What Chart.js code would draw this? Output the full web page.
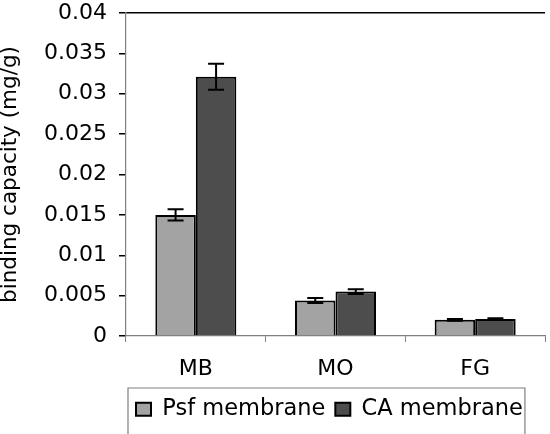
<!DOCTYPE html>
<html>
<head>
<meta charset="utf-8">
<script src="https://cdn.jsdelivr.net/npm/chart.js@4/dist/chart.umd.min.js"></script>
<style>
  html, body { margin: 0; padding: 0; background: #fff; }
  #wrap { width: 550px; height: 434px; position: relative; }
</style>
</head>
<body>
<div id="wrap"><canvas id="chart"></canvas></div>
<script>
const categories = ["MB", "MO", "FG"];
const seriesNames = ["Psf membrane", "CA membrane"];
const psfValues = [0.0150, 0.0044, 0.0020];
const caValues = [0.0321, 0.0055, 0.0021];
const psfErrors = [0.0007, 0.0003, 0.0001];
const caErrors = [0.0016, 0.0003, 0.0001];
const yTickLabels = ["0", "0.005", "0.01", "0.015", "0.02", "0.025", "0.03", "0.035", "0.04"];

const FONT = "'DejaVu Sans', 'Liberation Sans', Arial, sans-serif";

// error bars, positioned from the bar elements and the y scale
const errorBars = {
  id: "errorBars",
  afterDatasetsDraw(chart) {
    const { ctx, scales: { y } } = chart;
    const errs = [psfErrors, caErrors];
    ctx.save();
    ctx.strokeStyle = "#000";
    ctx.lineWidth = 2;
    chart.data.datasets.forEach((ds, i) => {
      const meta = chart.getDatasetMeta(i);
      meta.data.forEach((bar, j) => {
        const v = ds.data[j];
        const e = errs[i][j];
        const top = y.getPixelForValue(v + e);
        const bottom = y.getPixelForValue(v - e);
        ctx.beginPath();
        ctx.moveTo(bar.x, top);
        ctx.lineTo(bar.x, bottom);
        ctx.moveTo(bar.x - 8, top);
        ctx.lineTo(bar.x + 8, top);
        ctx.moveTo(bar.x - 8, bottom);
        ctx.lineTo(bar.x + 8, bottom);
        ctx.stroke();
      });
    });
    ctx.restore();
  },
};

// frame round the legend, open at the bottom edge like the original crop
const legendFrame = {
  id: "legendFrame",
  afterDraw(chart) {
    const legend = chart.legend;
    if (!legend || !legend.legendHitBoxes.length) return;
    const boxes = legend.legendHitBoxes;
    const left = boxes[0].left - 8;
    const last = boxes[boxes.length - 1];
    const right = last.left + last.width + 2;
    const { ctx } = chart;
    ctx.save();
    ctx.strokeStyle = "#7f7f7f";
    ctx.lineWidth = 1.2;
    ctx.beginPath();
    ctx.moveTo(left, chart.height + 2);
    ctx.lineTo(left, legend.top);
    ctx.lineTo(right, legend.top);
    ctx.lineTo(right, chart.height + 2);
    ctx.stroke();
    ctx.restore();
  },
};

new Chart(document.getElementById("chart"), {
  type: "bar",
  data: {
    labels: categories,
    datasets: [
      { label: seriesNames[0], data: psfValues, backgroundColor: "#a3a3a3", borderColor: "#000", borderWidth: 2, barPercentage: 1, categoryPercentage: 0.58 },
      { label: seriesNames[1], data: caValues, backgroundColor: "#4d4d4d", borderColor: "#000", borderWidth: 2, barPercentage: 1, categoryPercentage: 0.58 },
    ],
  },
  options: {
    responsive: true,
    maintainAspectRatio: false,
    animation: false,
    layout: { padding: { top: 13, right: 5, bottom: 3.5, left: 0 } },
    plugins: {
      tooltip: { enabled: false },
      legend: {
        position: "bottom",
        align: "start",
        fullSize: false,
        labels: { color: "#000", font: { family: FONT, size: 22.5 }, boxWidth: 15, boxHeight: 13, padding: 10 },
      },
    },
    scales: {
      x: {
        afterFit: (scale) => { scale.height = 52; },
        border: { color: "#808080", width: 1.2 },
        grid: {
          offset: true,
          color: (ctx) => (ctx.index === categories.length ? "#808080" : "transparent"),
          tickColor: "#808080",
          tickLength: 6,
        },
        ticks: { color: "#000", padding: 14, font: { family: FONT, size: 22 } },
      },
      y: {
        min: 0,
        max: 0.04,
        afterFit: (scale) => {
          scale.width = 126;
          scale.paddingTop = 0;
          scale.paddingBottom = 0;
        },
        border: { color: "#808080", width: 1.2 },
        grid: {
          color: (ctx) => (ctx.index === yTickLabels.length - 1 ? "#000" : "transparent"),
          lineWidth: 1.5,
          tickColor: "#000",
          tickLength: 7,
        },
        ticks: {
          stepSize: 0.005,
          color: "#000",
          padding: 12,
          font: { family: FONT, size: 22 },
          callback: (value, index) => yTickLabels[index],
        },
        title: {
          display: true,
          text: "binding capacity (mg/g)",
          color: "#000",
          padding: 0,
          font: { family: FONT, size: 21.5, lineHeight: 1 },
        },
      },
    },
  },
  plugins: [errorBars, legendFrame],
});
</script>
</body>
</html>
